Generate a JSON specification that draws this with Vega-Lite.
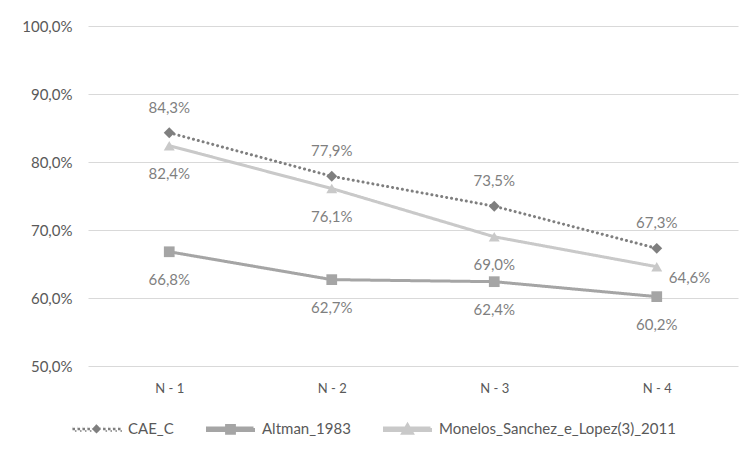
{
  "$schema": "https://vega.github.io/schema/vega-lite/v6.json",
  "width": 650,
  "height": 340,
  "autosize": {"type": "none"},
  "padding": {"left": 88, "top": 26, "right": 10, "bottom": 88},
  "background": "white",
  "data": {
    "values": [
      {"series": "CAE_C", "period": "N - 1", "value": 0.843},
      {"series": "CAE_C", "period": "N - 2", "value": 0.779},
      {"series": "CAE_C", "period": "N - 3", "value": 0.735},
      {"series": "CAE_C", "period": "N - 4", "value": 0.673},
      {"series": "Altman_1983", "period": "N - 1", "value": 0.668},
      {"series": "Altman_1983", "period": "N - 2", "value": 0.627},
      {"series": "Altman_1983", "period": "N - 3", "value": 0.624},
      {"series": "Altman_1983", "period": "N - 4", "value": 0.602},
      {"series": "Monelos_Sanchez_e_Lopez(3)_2011", "period": "N - 1", "value": 0.824},
      {"series": "Monelos_Sanchez_e_Lopez(3)_2011", "period": "N - 2", "value": 0.761},
      {"series": "Monelos_Sanchez_e_Lopez(3)_2011", "period": "N - 3", "value": 0.69},
      {"series": "Monelos_Sanchez_e_Lopez(3)_2011", "period": "N - 4", "value": 0.646}
    ]
  },
  "encoding": {
    "x": {
      "field": "period",
      "type": "nominal",
      "sort": ["N - 1", "N - 2", "N - 3", "N - 4"],
      "title": null,
      "axis": {
        "labelAngle": 0,
        "grid": false,
        "domain": false,
        "ticks": false,
        "tickSize": 0,
        "labelPadding": 16,
        "labelFontSize": 13,
        "labelColor": "#595959",
        "labelFont": "Lato"
      }
    },
    "y": {
      "field": "value",
      "type": "quantitative",
      "scale": {"domain": [0.5, 1.0], "nice": false, "zero": false},
      "title": null,
      "axis": {
        "values": [0.5, 0.6, 0.7, 0.8, 0.9, 1.0],
        "format": ".1%",
        "grid": true,
        "gridColor": "#d9d9d9",
        "gridWidth": 1,
        "domain": false,
        "ticks": false,
        "tickSize": 0,
        "labelPadding": 16,
        "labelFontSize": 15,
        "labelColor": "#595959",
        "labelFont": "Lato"
      }
    }
  },
  "layer": [
    {
      "mark": {"type": "line", "strokeCap": "round", "strokeJoin": "round"},
      "encoding": {
        "color": {
          "field": "series",
          "type": "nominal",
          "scale": {
            "domain": ["CAE_C", "Altman_1983", "Monelos_Sanchez_e_Lopez(3)_2011"],
            "range": ["#7f7f7f", "#a5a5a5", "#c9c9c9"]
          },
          "legend": {
            "title": null,
            "orient": "none",
            "direction": "horizontal",
            "legendX": -16,
            "legendY": 378,
            "padding": 0,
            "symbolSize": 2116,
            "labelOffset": 7,
            "columnPadding": 27,
            "labelFontSize": 15,
            "labelFont": "Lato",
            "labelColor": "#595959",
            "labelLimit": 400,
            "encode": {
              "symbols": {
                "update": {
                  "shape": {"signal": "datum.value === 'CAE_C' ? 'M-1.045,-0.055h0.11v0.11h-0.11z M-0.825,-0.055h0.11v0.11h-0.11z M-0.61,-0.055h0.11v0.11h-0.11z M-0.395,-0.055h0.11v0.11h-0.11z M0.285,-0.055h0.11v0.11h-0.11z M0.5,-0.055h0.11v0.11h-0.11z M0.715,-0.055h0.11v0.11h-0.11z M0.935,-0.055h0.11v0.11h-0.11z M0,-0.2L0.2,0L0,0.2L-0.2,0z' : datum.value === 'Altman_1983' ? 'M-1,-0.055H1V0.055H-1z M-0.17,-0.17H0.17V0.17H-0.17z' : 'M-1,-0.055H1V0.055H-1z M0,-0.2L0.21,0.17H-0.21z'"},
                  "fill": {"signal": "datum.value === 'CAE_C' ? '#7f7f7f' : datum.value === 'Altman_1983' ? '#a5a5a5' : '#c9c9c9'"},
                  "stroke": {"value": "transparent"},
                  "strokeWidth": {"value": 0},
                  "strokeDash": {"value": []},
                  "opacity": {"value": 1},
                  "fillOpacity": {"value": 1}
                }
              }
            }
          }
        },
        "strokeDash": {
          "field": "series",
          "type": "nominal",
          "scale": {
            "domain": ["CAE_C", "Altman_1983", "Monelos_Sanchez_e_Lopez(3)_2011"],
            "range": [[0.1, 4.9], [1, 0], [1, 0]]
          },
          "legend": null
        },
        "strokeWidth": {
          "field": "series",
          "type": "nominal",
          "scale": {
            "domain": ["CAE_C", "Altman_1983", "Monelos_Sanchez_e_Lopez(3)_2011"],
            "range": [3, 3, 3]
          },
          "legend": null
        }
      }
    },
    {
      "transform": [{"filter": "datum.series === 'CAE_C'"}],
      "mark": {"type": "point", "shape": "diamond", "filled": true, "opacity": 1, "size": 120, "color": "#7f7f7f"}
    },
    {
      "transform": [{"filter": "datum.series === 'Altman_1983'"}],
      "mark": {"type": "point", "shape": "square", "filled": true, "opacity": 1, "size": 115, "color": "#a5a5a5"}
    },
    {
      "transform": [{"filter": "datum.series === 'Monelos_Sanchez_e_Lopez(3)_2011'"}],
      "mark": {"type": "point", "shape": "triangle-up", "filled": true, "opacity": 1, "size": 120, "color": "#c9c9c9"}
    },
    {
      "transform": [{"filter": "datum.series === 'CAE_C'"}],
      "mark": {"type": "text", "dy": -25, "fontSize": 15, "font": "Lato", "color": "#7f7f7f", "baseline": "middle"},
      "encoding": {"text": {"field": "value", "type": "quantitative", "format": ".1%"}}
    },
    {
      "transform": [{"filter": "datum.series === 'Altman_1983' || (datum.series === 'Monelos_Sanchez_e_Lopez(3)_2011' && datum.period !== 'N - 4')"}],
      "mark": {"type": "text", "dy": 28, "fontSize": 15, "font": "Lato", "color": "#7f7f7f", "baseline": "middle"},
      "encoding": {"text": {"field": "value", "type": "quantitative", "format": ".1%"}}
    },
    {
      "transform": [{"filter": "datum.series === 'Monelos_Sanchez_e_Lopez(3)_2011' && datum.period === 'N - 4'"}],
      "mark": {"type": "text", "dx": 12, "dy": 11, "align": "left", "fontSize": 15, "font": "Lato", "color": "#7f7f7f", "baseline": "middle"},
      "encoding": {"text": {"field": "value", "type": "quantitative", "format": ".1%"}}
    }
  ],
  "config": {
    "locale": {"number": {"decimal": ",", "thousands": ".", "grouping": [3], "currency": ["", " €"]}},
    "view": {"stroke": null},
    "font": "Lato"
  }
}
